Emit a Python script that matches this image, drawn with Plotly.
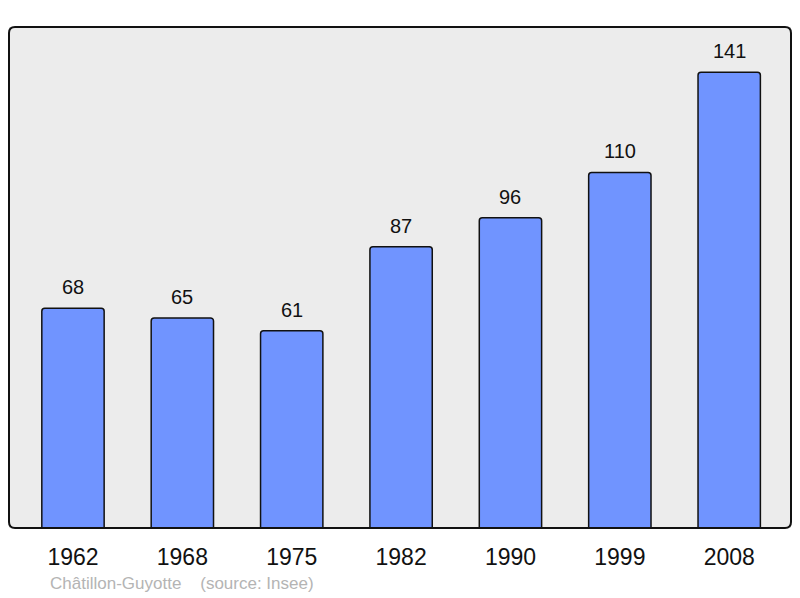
import plotly.graph_objects as go

# Population data (source: Insee)
years = ['1962', '1968', '1975', '1982', '1990', '1999', '2008']
population = [68, 65, 61, 87, 96, 110, 141]
commune = 'Châtillon-Guyotte'

x_pos = list(range(len(years)))

fig = go.Figure()
fig.add_trace(go.Bar(
    x=x_pos, y=population, width=0.57,
    marker=dict(color='#7094ff', line=dict(color='#111111', width=1.5), cornerradius=3),
    hoverinfo='x+y', showlegend=False,
))

# value labels above bars
for xp, v in zip(x_pos, population):
    fig.add_annotation(x=xp, y=v, text=str(v), showarrow=False, yanchor='bottom',
                       yshift=8, font=dict(size=20, color='#111111'))

# rounded frame around the plot area
rx, ry = 6 / 782, 6 / 501
frame = (f'M {rx},0 L {1-rx},0 Q 1,0 1,{ry} L 1,{1-ry} Q 1,1 {1-rx},1 '
         f'L {rx},1 Q 0,1 0,{1-ry} L 0,{ry} Q 0,0 {rx},0 Z')
fig.add_shape(type='path', path=frame, xref='paper', yref='paper',
              line=dict(color='#111111', width=2), layer='above')

fig.add_annotation(x=0.05, y=-0.11, xref='paper', yref='paper', xanchor='left',
                   yanchor='middle', showarrow=False,
                   text=commune + '\u00a0\u00a0\u00a0\u00a0(source: Insee)',
                   font=dict(size=17, color='#b4b4b4'))

fig.update_layout(
    width=800, height=598,
    margin=dict(l=9, r=9, t=27, b=70),
    paper_bgcolor='white', plot_bgcolor='#ececec',
    font=dict(family='Liberation Sans, Arial, sans-serif'),
    xaxis=dict(range=[-0.585, 6.565], tickvals=x_pos, ticktext=years,
               showgrid=False, zeroline=False, ticks='', ticklabelstandoff=13,
               tickfont=dict(size=23, color='#111111')),
    yaxis=dict(range=[0, 155], showgrid=False, zeroline=False, showticklabels=False),
)

fig.write_html('out.html', config={'displayModeBar': False},
               post_script="document.body.style.margin='0';")
